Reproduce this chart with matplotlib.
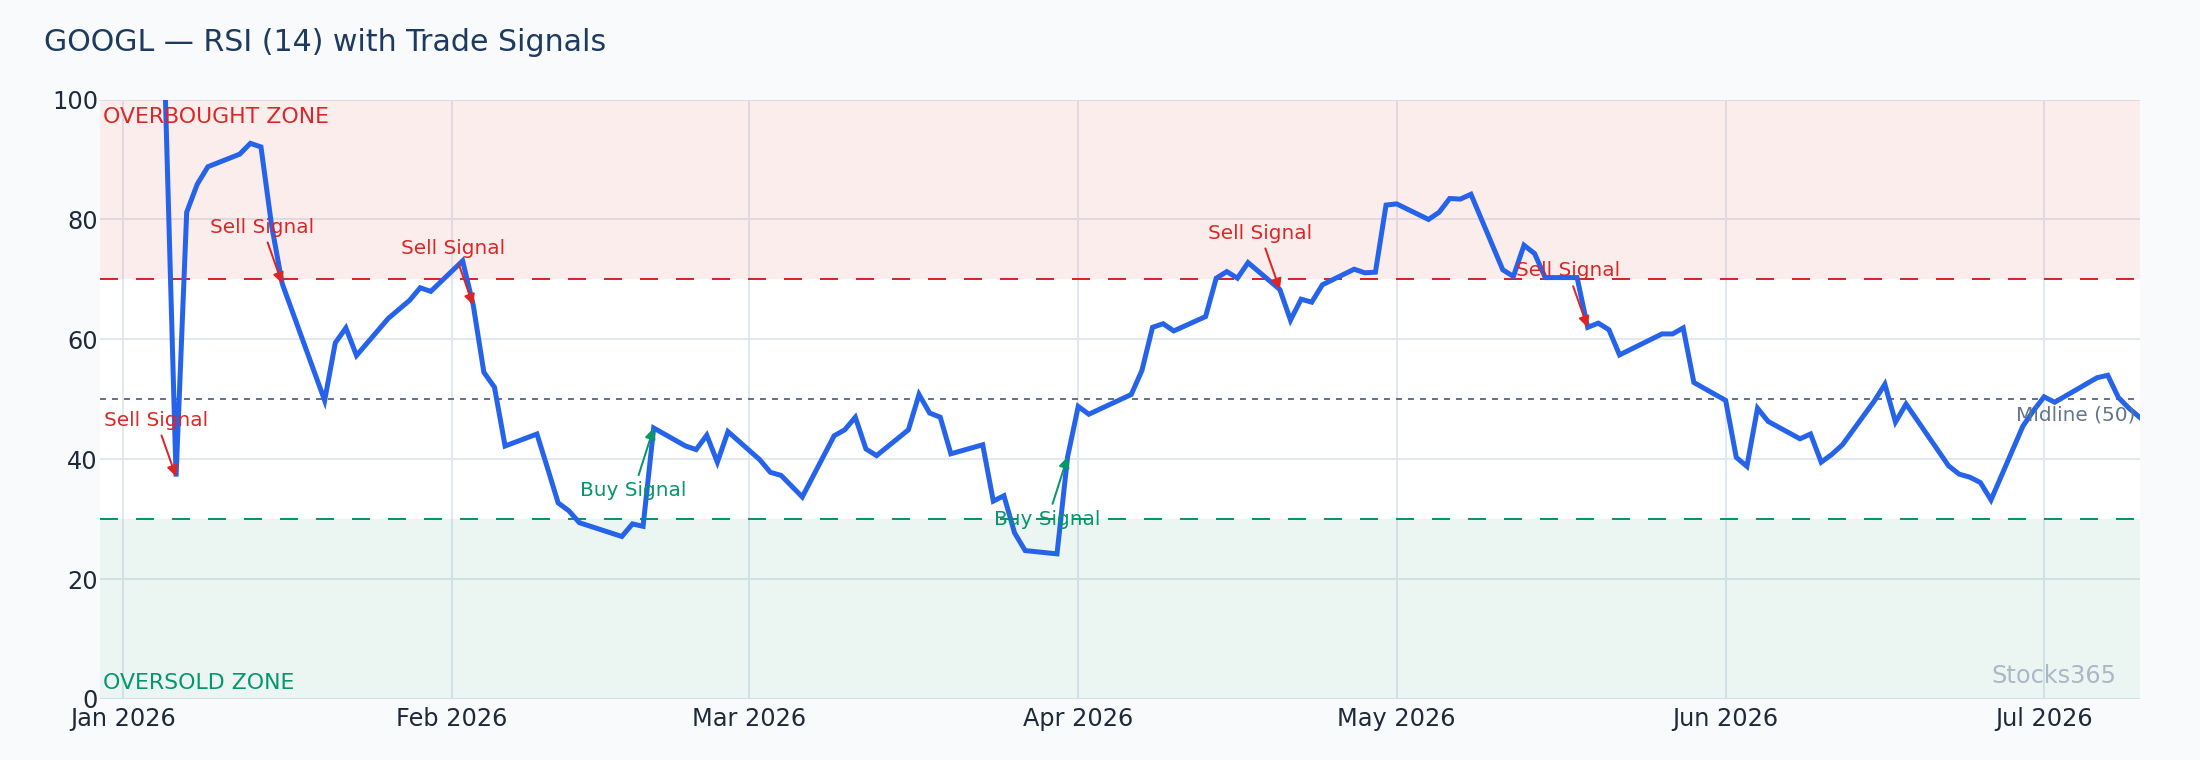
import matplotlib
matplotlib.use("Agg")
import matplotlib.pyplot as plt
import matplotlib.dates as mdates
import pandas as pd

# ---- data ----
market_holidays = ["2026-01-19", "2026-02-16", "2026-04-03", "2026-05-25", "2026-06-19", "2026-07-03"]
dates = pd.bdate_range("2026-01-05", "2026-07-10", freq="C", holidays=market_holidays)

rsi_jan = [100, 37.1, 81.2, 85.9, 88.8, 90.9, 92.7, 92.1, 79.0, 69.3, 49.8, 59.4, 61.9, 57.3,
           63.5, 65.0, 66.5, 68.6, 68.0]
rsi_feb = [73.1, 65.7, 54.5, 52.0, 42.2, 44.2, 38.5, 32.7, 31.4, 29.4, 27.1, 29.2, 28.8, 45.2,
           42.2, 41.6, 44.0, 39.5, 44.6]
rsi_mar = [39.9, 37.8, 37.3, 35.5, 33.7, 43.9, 44.9, 47.0, 41.7, 40.6, 44.9, 50.8, 47.7, 47.0,
           40.9, 42.4, 33.0, 33.9, 27.7, 24.75, 24.2, 40.4]
rsi_apr = [48.8, 47.5, 50.8, 54.8, 62.0, 62.6, 61.4, 63.8, 70.2, 71.3, 70.2, 72.8, 68.3, 63.2,
           66.7, 66.2, 69.1, 71.7, 71.1, 71.2, 82.4]
rsi_may = [82.6, 80.0, 81.2, 83.5, 83.4, 84.2, 71.6, 70.5, 75.7, 74.3, 70.3, 70.3, 62.0, 62.7,
           61.6, 57.4, 60.9, 60.9, 61.9, 52.8]
rsi_jun = [49.8, 40.3, 38.8, 48.5, 46.3, 43.4, 44.2, 39.5, 40.8, 42.4, 49.7, 52.5, 46.2, 49.2,
           38.9, 37.5, 37.0, 36.1, 33.2, 45.5, 48.1]
rsi_jul = [50.4, 49.5, 53.6, 54.0, 50.3, 48.5, 47.0]
rsi_values = rsi_jan + rsi_feb + rsi_mar + rsi_apr + rsi_may + rsi_jun + rsi_jul

sell_dates = ["2026-01-06", "2026-01-16", "2026-02-03", "2026-04-20", "2026-05-19"]
buy_dates = ["2026-02-20", "2026-03-31"]

overbought = 70
oversold = 30
midline = 50
y_ticks = [0, 20, 40, 60, 80, 100]
title = "GOOGL — RSI (14) with Trade Signals"

rsi = pd.Series(rsi_values, index=dates)

# ---- style ----
BLUE = "#2563eb"
RED = "#dc2626"
GREEN = "#059669"
SLATE = "#64748b"
TXT = "#1e293b"
PAPER = "#f8fafc"
GRID = "#e2e8f0"

DPI = 144
fig = plt.figure(figsize=(2200 / DPI, 760 / DPI), dpi=DPI, facecolor=PAPER)
ax = fig.add_axes([100 / 2200, 1 - 698.9 / 760, 2039.6 / 2200, 599.3 / 760])
ax.set_facecolor("white")

ax.axhspan(overbought, 100, color=RED, alpha=0.08, lw=0, zorder=1)
ax.axhspan(0, oversold, color=GREEN, alpha=0.08, lw=0, zorder=1)

ax.axhline(overbought, color=RED, lw=1, linestyle=(0, (9, 9)), zorder=2)
ax.axhline(oversold, color=GREEN, lw=1, linestyle=(0, (9, 9)), zorder=2)
ax.axhline(midline, color=SLATE, lw=1, linestyle=(0, (3, 3)), zorder=2)

ax.plot(rsi.index, rsi.values, color=BLUE, lw=2.5, zorder=3, solid_joinstyle="miter")

for d in sell_dates:
    ts = pd.Timestamp(d)
    ax.annotate("Sell Signal", xy=(ts, rsi[ts]), xytext=(-10, 25.5), textcoords="offset points",
                ha="center", va="baseline", fontsize=10, color=RED, zorder=5,
                arrowprops=dict(arrowstyle="-|>", color=RED, lw=1, shrinkA=1, shrinkB=0,
                                mutation_scale=11))
for d in buy_dates:
    ts = pd.Timestamp(d)
    ax.annotate("Buy Signal", xy=(ts, rsi[ts]), xytext=(-10, -34), textcoords="offset points",
                ha="center", va="baseline", fontsize=10, color=GREEN, zorder=5,
                arrowprops=dict(arrowstyle="-|>", color=GREEN, lw=1, shrinkA=1, shrinkB=0,
                                mutation_scale=11))

ax.annotate("OVERBOUGHT ZONE", xy=(0, 1), xycoords="axes fraction", xytext=(1.5, -11.85),
            textcoords="offset points", ha="left", va="baseline", fontsize=11, color=RED)
ax.annotate("OVERSOLD ZONE", xy=(0, 0), xycoords="axes fraction", xytext=(1.5, 4.8),
            textcoords="offset points", ha="left", va="baseline", fontsize=11, color=GREEN)
ax.annotate("Midline (50)", xy=(1, midline), xycoords=("axes fraction", "data"),
            xytext=(-2.3, -10.85), textcoords="offset points", ha="right", va="baseline",
            fontsize=10, color=SLATE)
ax.annotate("Stocks365", xy=(1, 0), xycoords="axes fraction", xytext=(-11.5, 7.8),
            textcoords="offset points", ha="right", va="baseline", fontsize=12,
            color="#94a3b8", alpha=0.75)

ax.set_ylim(0, 100)
ax.set_yticks(y_ticks)
ax.set_xlim(pd.Timestamp("2025-12-29 20:00"), pd.Timestamp("2026-07-10 00:00"))
ax.xaxis.set_major_locator(mdates.MonthLocator())
ax.xaxis.set_major_formatter(mdates.DateFormatter("%b %Y"))

ax.grid(True, color=GRID, lw=1)
ax.set_axisbelow(True)
for s in ax.spines.values():
    s.set_visible(False)
ax.tick_params(axis="both", length=0, labelsize=12, labelcolor=TXT)
ax.tick_params(axis="y", pad=1)
ax.tick_params(axis="x", pad=4)

fig.text(43.5 / 2200, 1 - 50.7 / 760, title, ha="left", va="baseline", fontsize=15, color="#1e3a5f")

fig.savefig("out.png", dpi=DPI, facecolor=PAPER)
